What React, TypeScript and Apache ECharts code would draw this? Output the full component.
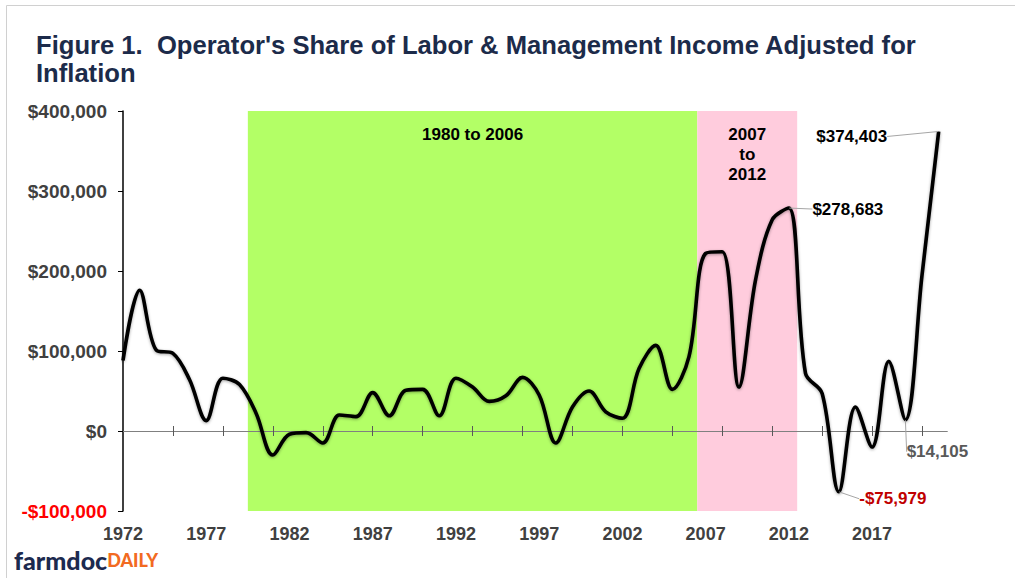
import React, { useEffect, useRef } from "react";
import * as echarts from "echarts";

const FONT = "'Liberation Sans', Arial, sans-serif";

const years = [
  1972, 1973, 1974, 1975, 1976, 1977, 1978, 1979, 1980, 1981,
  1982, 1983, 1984, 1985, 1986, 1987, 1988, 1989, 1990, 1991,
  1992, 1993, 1994, 1995, 1996, 1997, 1998, 1999, 2000, 2001,
  2002, 2003, 2004, 2005, 2006, 2007, 2008, 2009, 2010, 2011,
  2012, 2013, 2014, 2015, 2016, 2017, 2018, 2019, 2020, 2021,
];

const income = [
  88000, 176000, 101000, 97000, 64000, 13000, 66000, 58000, 22000, -30000,
  -4000, -2000, -15000, 20000, 18000, 48000, 19000, 51000, 52000, 19000,
  66000, 55000, 37000, 44000, 67000, 45000, -15000, 30000, 50000, 24000,
  16000, 78000, 107000, 52000, 93000, 222000, 224000, 55000, 189000, 264000,
  278683, 72000, 47000, -75979, 30000, -20000, 87000, 14105, 195000, 374403,
];

const xTickYears = [1975, 1978, 1981, 1984, 1987, 1990, 1993, 1996, 1999, 2002, 2005, 2008, 2011, 2014, 2017, 2020];
const xLabelYears = [1972, 1977, 1982, 1987, 1992, 1997, 2002, 2007, 2012, 2017];

const periodLabels = ["1980 to 2006", "2007\nto\n2012"];
const periodStarts = [1979.5, 2006.5];
const periodEnds = [2006.5, 2012.5];
const periodColors = ["#b3ff66", "#ffccdd"];

const calloutYears = [2012, 2015, 2019, 2021];
const calloutColors = ["#000000", "#c00000", "#595959", "#000000"];
const calloutOffsets: Record<number, [number, number]> = {
  2012: [59, 1],
  2015: [54, 7],
  2019: [32, 32],
  2021: [-87, 5],
};

const money = (v: number) =>
  (v < 0 ? "-" : "") + "$" + Math.abs(v).toLocaleString("en-US");

export default function App() {
  const ref = useRef<HTMLDivElement>(null);

  useEffect(() => {
    const chart = echarts.init(ref.current!, null, { renderer: "svg" });

    const seriesData = income.map((v, i) => {
      const yr = years[i];
      const ci = calloutYears.indexOf(yr);
      if (ci >= 0) {
        return { value: [yr, v], label: { show: true, color: calloutColors[ci] } };
      }
      return { value: [yr, v] };
    });

    const baseX = {
      type: "value",
      min: 1972,
      max: 2021.5,
      splitLine: { show: false },
    };

    const option: any = {
      animation: false,
      backgroundColor: "#ffffff",
      title: {
        text: "Figure 1.  Operator's Share of Labor & Management Income Adjusted for\nInflation",
        left: 36,
        top: 31,
        padding: 0,
        textStyle: {
          fontFamily: FONT,
          fontSize: 25.6,
          fontWeight: "bold",
          color: "#1c2b4a",
          lineHeight: 28,
        },
      },
      grid: { left: 123, right: 68, top: 111, bottom: 67 },
      xAxis: [
        {
          ...baseX,
          position: "bottom",
          z: 1.5,
          axisLine: { show: true, onZero: true, onZeroAxisIndex: 0, lineStyle: { color: "#808080", width: 1.2 } },
          axisTick: { show: true, inside: false, length: 5, customValues: xTickYears, lineStyle: { color: "#595959", width: 1 } },
          axisLabel: { show: false },
        },
        {
          ...baseX,
          position: "top",
          z: 1.5,
          axisLine: { show: true, onZero: true, onZeroAxisIndex: 1, lineStyle: { color: "#808080", width: 1.2 } },
          axisTick: { show: true, inside: false, length: 5, customValues: xTickYears, lineStyle: { color: "#595959", width: 1 } },
          axisLabel: { show: false },
        },
        {
          ...baseX,
          position: "bottom",
          axisLine: { show: false, onZero: false },
          axisTick: { show: false },
          axisLabel: {
            show: true,
            customValues: xLabelYears,
            formatter: (v: number) => String(v),
            fontFamily: FONT,
            fontSize: 18,
            fontWeight: "bold",
            color: "#404040",
            margin: 14,
          },
        },
      ],
      yAxis: [
        {
          type: "value",
          min: -100000,
          max: 400000,
          interval: 100000,
          z: 1.5,
          axisLine: { show: true, onZero: false, lineStyle: { color: "#000000", width: 1.5 } },
          axisTick: { show: true, inside: false, length: 5, lineStyle: { color: "#000000", width: 1 } },
          splitLine: { show: false },
          axisLabel: {
            formatter: (v: number) => money(v),
            fontFamily: FONT,
            fontSize: 19,
            fontWeight: "bold",
            color: (v: any) => (Number(v) < 0 ? "#ff0000" : "#404040"),
            margin: 16,
          },
        },
        {
          type: "value",
          min: -100000,
          max: 400000,
          interval: 100000,
          show: false,
        },
      ],
      series: [
        {
          type: "line",
          data: [],
          z: 1,
          silent: true,
          markArea: {
            silent: true,
            z: 1,
            label: {
              position: "insideTop",
              distance: 13,
              fontFamily: FONT,
              fontSize: 17,
              fontWeight: "bold",
              color: "#000000",
              lineHeight: 20,
            },
            data: periodLabels.map((name, i) => [
              { xAxis: periodStarts[i], name, itemStyle: { color: periodColors[i] } },
              { xAxis: periodEnds[i] },
            ]),
          },
        },
        {
          type: "line",
          z: 5,
          xAxisIndex: 0,
          yAxisIndex: 0,
          data: seriesData,
          smooth: 0.35,
          showSymbol: true,
          symbol: "circle",
          symbolSize: 1,
          itemStyle: { color: "rgba(0,0,0,0)", borderWidth: 0 },
          lineStyle: {
            color: "#000000",
            width: 3.6,
            shadowColor: "rgba(0,0,0,0.35)",
            shadowBlur: 3,
            shadowOffsetY: 1,
          },
          emphasis: { disabled: true },
          label: {
            show: false,
            position: "inside",
            formatter: (p: any) => money(p.value[1]),
            fontFamily: FONT,
            fontSize: 17,
            fontWeight: "bold",
          },
          labelLine: { show: true, lineStyle: { color: "#a6a6a6", width: 1 } },
          labelLayout: (p: any) => {
            const o = calloutOffsets[years[p.dataIndex]];
            return o ? { dx: o[0], dy: o[1] } : {};
          },
        },
      ],
      graphic: [
        { type: "line", shape: { x1: 6.5, y1: 5.5, x2: 1015, y2: 5.5 }, style: { stroke: "#d0d0d0", lineWidth: 1 } },
        { type: "line", shape: { x1: 6.5, y1: 5.5, x2: 6.5, y2: 578 }, style: { stroke: "#d0d0d0", lineWidth: 1 } },
        {
          type: "text",
          left: 14,
          top: 547,
          style: {
            text: "{a|farmdoc}{b|DAILY}",
            rich: {
              a: { fontFamily: "Lato", fontWeight: 900, fontSize: 25, fill: "#1c2a4f", color: "#1c2a4f" },
              b: { fontFamily: "Lato", fontWeight: 900, fontSize: 18, fill: "#f26a21", color: "#f26a21" },
            },
          },
        },
      ],
    };

    chart.setOption(option);
    return () => chart.dispose();
  }, []);

  return (
    <div
      ref={ref}
      style={{ position: "fixed", left: 0, top: 0, width: 1015, height: 578, background: "#fff" }}
    />
  );
}
